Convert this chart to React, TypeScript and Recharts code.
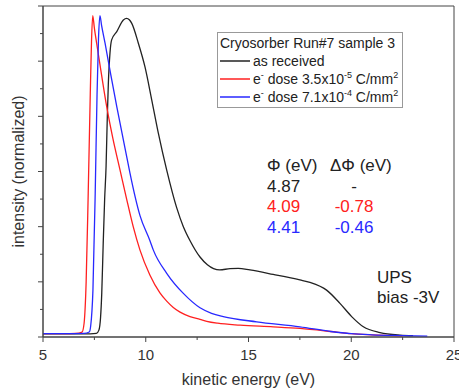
import { LineChart, Line, XAxis, YAxis, Legend, ReferenceArea } from 'recharts'

// energies (eV) and normalized intensities
const receivedE = [5, 6, 7, 7.6, 7.72, 7.8, 7.86, 7.93, 8.0, 8.07, 8.13, 8.18, 8.26, 8.34, 8.59, 8.91, 9.07, 9.2, 9.32, 9.64, 9.96, 10.29, 10.61, 11.02, 11.5, 11.83, 12.15, 12.64, 13.0, 13.3, 13.6, 14.1, 14.5, 15.07, 16.2, 17.5, 17.99, 18.8, 19.45, 20.02, 20.59, 21.4, 22.37, 23]
const receivedI = [0.011, 0.011, 0.011, 0.013, 0.025, 0.07, 0.16, 0.34, 0.5, 0.62, 0.8, 0.92, 1.03, 1.077, 1.107, 1.149, 1.155, 1.15, 1.137, 1.065, 0.98, 0.86, 0.74, 0.605, 0.47, 0.4, 0.35, 0.29, 0.262, 0.248, 0.243, 0.248, 0.249, 0.243, 0.227, 0.207, 0.198, 0.17, 0.122, 0.074, 0.037, 0.016, 0.007, 0.005]

const dose1E = [5, 6, 6.6, 6.9, 7.0, 7.1, 7.2, 7.3, 7.36, 7.42, 7.5, 7.61, 7.85, 8.1, 8.4, 8.75, 9.07, 9.39, 9.72, 10.2, 10.69, 11.02, 11.34, 11.67, 12.15, 12.64, 12.97, 13.5, 14.59, 16.2, 17.5, 19, 20, 21, 22.5]
const dose1I = [0.012, 0.012, 0.013, 0.018, 0.05, 0.2, 0.52, 0.88, 1.07, 1.165, 1.12, 1.065, 0.95, 0.835, 0.72, 0.605, 0.5, 0.4, 0.315, 0.225, 0.16, 0.13, 0.107, 0.09, 0.074, 0.064, 0.057, 0.05, 0.043, 0.037, 0.031, 0.02, 0.012, 0.008, 0.004]

const dose2E = [5, 6, 7, 7.25, 7.32, 7.43, 7.54, 7.63, 7.7, 7.77, 7.85, 8.02, 8.3, 8.59, 9.07, 9.23, 9.72, 10.2, 10.37, 11.02, 11.83, 12.64, 13.2, 13.77, 15.4, 17.5, 19, 20, 21, 22.5, 23.7]
const dose2I = [0.012, 0.012, 0.013, 0.018, 0.04, 0.17, 0.52, 0.88, 1.08, 1.165, 1.13, 1.065, 0.95, 0.835, 0.655, 0.595, 0.44, 0.35, 0.315, 0.231, 0.158, 0.106, 0.086, 0.074, 0.055, 0.037, 0.02, 0.012, 0.008, 0.005, 0.003]

const legendTitle = 'Cryosorber Run#7 sample 3'
const seriesNames = ['as received', 'e^- dose 3.5x10^-5 C/mm^2', 'e^- dose 7.1x10^-4 C/mm^2']
const seriesColors = ['#222222', '#ff2020', '#2828ff']

const phiValues = ['4.87', '4.09', '4.41']
const deltaPhiValues = ['-', '-0.78', '-0.46']

const xTicks = [5, 7.5, 10, 12.5, 15, 17.5, 20, 22.5, 25]
const yTicks = [0, 0.1, 0.2, 0.3, 0.4, 0.5, 0.6, 0.7, 0.8, 0.9, 1.0, 1.1, 1.2]

const FONT = '"Liberation Sans", Arial, sans-serif'
const AXIS = '#444'

const toPoints = (e: number[], v: number[]) => e.map((x, i) => ({ e: x, v: v[i] }))
const series = [
  toPoints(receivedE, receivedI),
  toPoints(dose1E, dose1I),
  toPoints(dose2E, dose2I),
]

// "10^-5" -> 10 with superscript -5
function fmt(s: string) {
  const parts = s.split(/\^(-?\d+|-)/)
  return parts.map((p, i) =>
    i % 2 === 1 ? (
      <sup key={i} style={{ fontSize: 9, lineHeight: 0, verticalAlign: 6 }}>{p}</sup>
    ) : (
      <span key={i}>{p}</span>
    )
  )
}

const XTick = (props: any) => {
  const { x, y, payload } = props
  const major = payload.value % 5 === 0
  return (
    <g>
      <line x1={x} x2={x} y1={y} y2={y + (major ? 5 : 3)} stroke={AXIS} />
      {major && (
        <text x={x} y={y + 23} textAnchor="middle" fontSize={15} fill="#333" fontFamily={FONT}>
          {payload.value}
        </text>
      )}
    </g>
  )
}

const YTick = (props: any) => {
  const { x, y, payload } = props
  const major = Math.round(payload.value * 10) % 2 === 0
  return <line x1={x} x2={x - (major ? 5 : 3)} y1={y} y2={y} stroke={AXIS} />
}

const LegendBox = () => (
  <div
    style={{
      border: '1px solid #999',
      background: '#fff',
      padding: '1px 4px 1px 2px',
      fontFamily: FONT,
      fontSize: 14,
      lineHeight: '18px',
      color: '#222',
      whiteSpace: 'nowrap',
    }}
  >
    <div>{legendTitle}</div>
    {seriesNames.map((name, i) => (
      <div key={name} style={{ display: 'flex', alignItems: 'center' }}>
        <svg width={30} height={4} style={{ marginRight: 3 }}>
          <line x1={0} x2={30} y1={2} y2={2} stroke={seriesColors[i]} strokeWidth={1.5} />
        </svg>
        <span>{fmt(name)}</span>
      </div>
    ))}
  </div>
)

export default function App() {
  const txt = { position: 'absolute' as const, fontFamily: FONT, fontSize: 17, lineHeight: '20.5px', whiteSpace: 'nowrap' as const }
  return (
    <div style={{ position: 'absolute', left: 0, top: 0, width: 459, height: 390 }}>
      <LineChart width={459} height={390} margin={{ top: 6, right: 5, left: 13, bottom: 23 }}>
        <XAxis
          dataKey="e"
          type="number"
          domain={[5, 25]}
          ticks={xTicks}
          interval={0}
          tickSize={0}
          tickMargin={0}
          tickLine={false}
          stroke={AXIS}
          height={30}
          tick={<XTick />}
          allowDuplicatedCategory={false}
          label={{ value: 'kinetic energy (eV)', position: 'bottom', offset: 7, fontSize: 16, fill: '#333', fontFamily: FONT }}
        />
        <YAxis
          type="number"
          domain={[0, 1.2]}
          ticks={yTicks}
          interval={0}
          tickSize={0}
          tickMargin={0}
          tickLine={false}
          stroke={AXIS}
          width={30}
          tick={<YTick />}
          label={{ value: 'intensity (normalized)', angle: -90, position: 'insideLeft', offset: 5, fontSize: 16, fill: '#333', fontFamily: FONT, style: { textAnchor: 'middle' } }}
        />
        <ReferenceArea x1={5} x2={25} y1={0} y2={1.2} fill="none" stroke={AXIS} strokeWidth={1} ifOverflow="visible" />
        {series.map((d, i) => (
          <Line
            key={seriesNames[i]}
            data={d}
            dataKey="v"
            name={seriesNames[i]}
            type="monotone"
            stroke={seriesColors[i]}
            strokeWidth={1.3}
            dot={false}
            isAnimationActive={false}
          />
        ))}
        <Legend
          layout="vertical"
          align="center"
          verticalAlign="middle"
          content={<LegendBox />}
          wrapperStyle={{ left: 217, top: 32, width: 'auto', height: 'auto' }}
        />
      </LineChart>
      <div style={{ ...txt, left: 267, top: 156, color: '#222' }}>Φ (eV)</div>
      <div style={{ ...txt, left: 330, top: 156, color: '#222' }}>ΔΦ (eV)</div>
      {phiValues.map((v, i) => (
        <div key={'p' + i} style={{ ...txt, left: 267, top: 176.5 + i * 20.5, color: seriesColors[i] }}>{v}</div>
      ))}
      {deltaPhiValues.map((v, i) => (
        <div key={'d' + i} style={{ ...txt, left: 334, width: 40, textAlign: 'center', top: 176.5 + i * 20.5, color: seriesColors[i] }}>{v}</div>
      ))}
      <div style={{ ...txt, left: 377, top: 267.5, color: '#222' }}>
        UPS
        <br />
        bias -3V
      </div>
    </div>
  )
}
